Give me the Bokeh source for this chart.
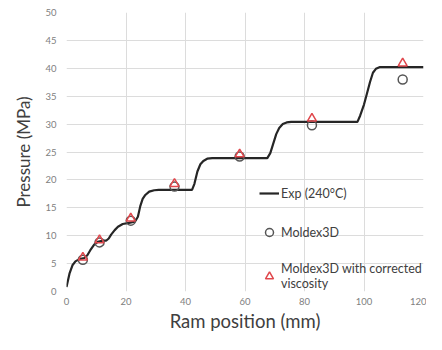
from bokeh.plotting import figure
from bokeh.models import Range1d, FixedTicker, Legend, LegendItem
from bokeh.embed import file_html
from bokeh.resources import INLINE

exp_x = [0, 1, 2, 3, 4.3, 6, 7, 8, 9.3, 10.5, 12, 13.3, 14.2, 15, 16.2, 17.3, 18.9,
         21, 23, 24, 24.8, 25.6, 26.5, 27.8, 29.5, 31, 42.2, 43, 44, 45, 46, 47.3, 49,
         67.5, 68.5, 69.5, 70.5, 71.5, 72.7, 74, 75.5, 97.8, 98.7, 100, 101, 102, 103,
         104, 105.2, 120]
exp_y = [0.8, 3.2, 4.7, 5.4, 5.8, 6.0, 6.5, 7.4, 8.4, 8.9, 9.1, 9.1, 9.5, 10.2, 11.0, 11.6, 12.1,
         12.3, 12.5, 13.4, 15.3, 16.6, 17.3, 17.9, 18.15, 18.2, 18.2, 19.3, 21.5, 22.8, 23.4, 23.8, 23.9,
         23.9, 24.8, 26.5, 28.2, 29.3, 30.0, 30.3, 30.4, 30.4, 31.5, 33.5, 35.5, 37.5, 39.2,
         39.9, 40.2, 40.2]

# Simulation points
sim_x = [5.5, 11.1, 21.6, 36.3, 58.2, 82.5, 113.0]
moldex_y = [5.7, 8.8, 12.7, 18.8, 24.2, 29.8, 38.0]
corrected_y = [6.1, 9.2, 13.1, 19.3, 24.6, 31.0, 40.9]

x_ticks = [0, 20, 40, 60, 80, 100, 120]
y_ticks = [0, 5, 10, 15, 20, 25, 30, 35, 40, 45, 50]

FONT = "Lato"

p = figure(width=426, height=334, output_backend="svg", toolbar_location=None,
           x_range=Range1d(0, 120), y_range=Range1d(0, 50),
           min_border_left=66, min_border_right=3, min_border_top=12, min_border_bottom=42)
p.outline_line_color = None
p.background_fill_color = "white"
p.border_fill_color = "white"

for ax in (p.xaxis[0], p.yaxis[0]):
    ax.axis_line_color = None
    ax.major_tick_line_color = None
    ax.minor_tick_line_color = None
    ax.major_tick_out = 0
    ax.major_tick_in = 0
    ax.minor_tick_out = 0
    ax.minor_tick_in = 0
    ax.major_label_text_font = FONT
    ax.major_label_text_font_size = "9.5px"
    ax.major_label_text_color = "#808080"
    ax.axis_label_text_font = FONT
    ax.axis_label_text_font_style = "normal"
    ax.axis_label_text_color = "#404040"

p.xaxis.axis_label_text_font_size = "18.5px"
p.yaxis.axis_label_text_font_size = "17px"
p.xaxis.ticker = FixedTicker(ticks=x_ticks)
p.yaxis.ticker = FixedTicker(ticks=y_ticks)
p.xaxis.axis_label = "Ram position (mm)"
p.yaxis.axis_label = "Pressure (MPa)"
p.xaxis.major_label_standoff = 6
p.yaxis.major_label_standoff = 10
p.xaxis.axis_label_standoff = 2
p.yaxis.axis_label_standoff = 8

p.xgrid.grid_line_color = "#dcdcdc"
p.ygrid.grid_line_color = "#dcdcdc"

r_exp = p.line(exp_x, exp_y, line_color="#262626", line_width=2.2)
r_mol = p.scatter(sim_x, moldex_y, marker="circle", size=9, fill_alpha=0,
                  line_color="#555555", line_width=1.5)
r_cor = p.scatter(sim_x, corrected_y, marker="triangle", size=9, fill_alpha=0,
                  line_color="#e0474c", line_width=1.5)

legend = Legend(items=[
    LegendItem(label="Exp (240\u00b0C)", renderers=[r_exp]),
    LegendItem(label="Moldex3D", renderers=[r_mol]),
    LegendItem(label="Moldex3D with corrected\nviscosity", renderers=[r_cor]),
], location=(193, 0))
legend.background_fill_alpha = 0
legend.border_line_color = None
legend.label_text_font = FONT
legend.label_text_font_size = "12.5px"
legend.label_text_line_height = 1.45
legend.label_text_color = "#404040"
legend.glyph_width = 20
legend.spacing = 19
legend.label_standoff = 2
p.add_layout(legend)

open("out.html", "w").write(file_html(p, INLINE))
